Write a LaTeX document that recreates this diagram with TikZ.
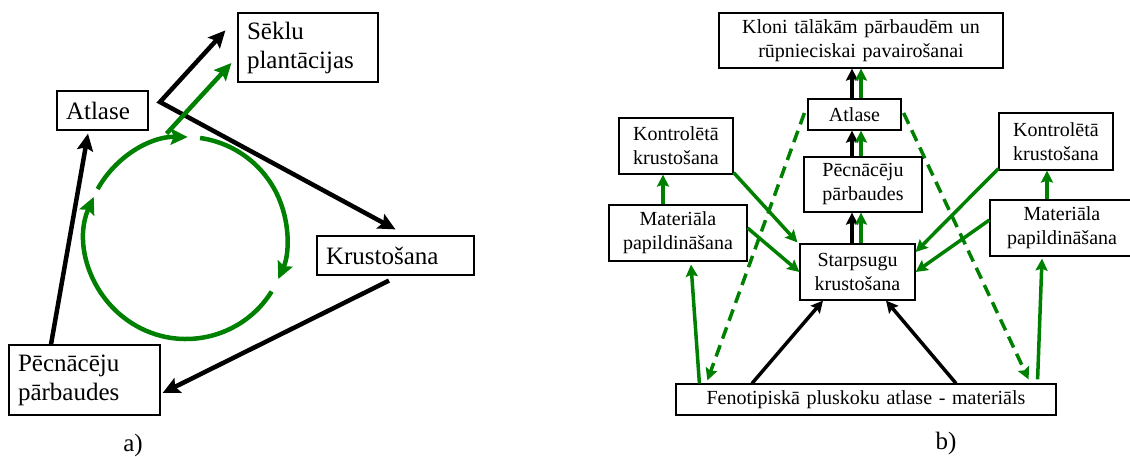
\documentclass[tikz,border=0pt]{standalone}
\usepackage{fontspec}
\setmainfont{Liberation Serif}
\usetikzlibrary{arrows.meta}
\definecolor{leaf}{RGB}{0,128,0}
\tikzset{
    boxA/.style={draw, line width=1.2pt, fill=white, align=left, inner xsep=9pt,
        font=\fontsize{25}{29}\selectfont},
    boxB/.style={draw, line width=1.2pt, fill=white, align=center, inner xsep=4pt,
        font=\fontsize{20}{24}\selectfont},
    blk/.style={line width=3.5pt, -{Stealth[length=12pt,width=12pt,inset=2pt]}},
    grn/.style={blk, draw=leaf},
    blkA/.style={line width=4.5pt, -{Stealth[length=17pt,width=16pt,inset=3pt]}},
    grnA/.style={blkA, draw=leaf},
    dsh/.style={grn, dash pattern=on 12pt off 7pt},
}
\begin{document}
\begin{tikzpicture}[x=1pt, y=1pt]
    \useasboundingbox (0,0) rectangle (1130,-457);

    % a) cycle
    \foreach \x/\y/\w/\h/\txt/\name in {
        308/47.5/140/69/{Sēklu\\plantācijas}/seklu,
        102.5/110.5/91/39/Atlase/atlA,
        395.5/255.5/157/39/Krustošana/krusA,
        84.5/380/151/70/{Pēcnācēju\\pārbaudes}/pecA%
     } {
        \pgfmathsetmacro\tw{\w-18}
        \node[boxA, minimum width=\w, minimum height=\h, text width=\tw pt] (\name) at (\x, -\y) {\txt};
    }
    \coordinate (hub) at (186,-238);
    \coordinate (knee) at (160,-102);
    \draw[grnA] (hub) ++(82:101) arc (82:-24:101);
    \draw[grnA] (hub) ++(-32:101) arc (-32:-204:101);
    \draw[grnA] (hub) ++(151:101) arc (151:89:101);

    \draw[blkA] ([xshift=-33.5pt]pecA.north) -- ([xshift=-14.5pt,yshift=-3pt]atlA.south);
    \draw[line width=4.5pt, {Stealth[length=17pt,width=16pt,inset=3pt]}-{Stealth[length=17pt,width=16pt,inset=3pt]}]
        ([xshift=-12pt,yshift=-18pt]seklu.north west) -- (knee) -- ([yshift=6pt]krusA.north);
    \draw[grnA] ([xshift=18pt,yshift=-3pt]atlA.south east) -- ([xshift=-6pt,yshift=-15.5pt]seklu.west);
    \draw[blkA] ([xshift=-6.5pt,yshift=-5pt]krusA.south) -- ([xshift=2pt,yshift=-13pt]pecA.east);
    \node[font=\fontsize{25}{29}\selectfont] (capA) at (133,-445) {a)};

    % b) scheme
    \foreach \x/\y/\w/\h/\txt/\name in {
        861/40.5/284/55/{Kloni tālākām pārbaudēm un\\rūpnieciskai pavairošanai}/kloni,
        854.5/114.5/93/31/Atlase/atlB,
        863/184.5/118/55/{Pēcnācēju\\pārbaudes}/pecB,
        857.5/272/115/56/{Starpsugu\\krustošana}/starp,
        866/399.5/380/31/{Fenotipiskā pluskoku atlase - materiāls}/feno,
        676/146/114/56/{Kontrolētā\\krustošana}/kontrL,
        678/233/138/56/{Materiāla\\papildināšana}/matL,
        1056/141.5/114/57/{Kontrolētā\\krustošana}/kontrR,
        1062/228/144/56/{Materiāla\\papildināšana}/matR%
     } {
        \pgfmathsetmacro\tw{\w-8}
        \node[boxB, minimum width=\w, minimum height=\h, text width=\tw pt] (\name) at (\x, -\y) {\txt};
    }
    \foreach \dx/\sty in {-2.5/blk, 6.5/grn} {
        \draw[\sty] ([xshift=\dx pt]atlB.north) -- ([xshift=\dx pt]atlB.north |- kloni.south);
        \draw[\sty] ([xshift=\dx pt]atlB.south |- pecB.north) -- ([xshift=\dx pt]atlB.south);
        \draw[\sty] ([xshift=\dx pt]atlB.south |- starp.north) -- ([xshift=\dx pt]atlB.south |- pecB.south);
    }
    \draw[grn] ([xshift=-13pt]kontrL.south |- matL.north) -- ([xshift=-13pt]kontrL.south);
    \draw[grn] ([xshift=-9pt]kontrR.south |- matR.north) -- ([xshift=-9pt]kontrR.south);
    \draw[grn] ([yshift=2pt]kontrL.south east) -- ([xshift=-2pt,yshift=1pt]starp.north west);
    \draw[grn] ([yshift=5pt]matL.east) -- (starp.west);
    \draw[grn] ([yshift=2pt]kontrR.south west) -- ([yshift=20pt]starp.east);
    \draw[grn] ([yshift=8pt]matR.west) -- (starp.east);
    \draw[grn] ([xshift=24pt]feno.north west) -- ([xshift=13pt,yshift=-3pt]matL.south);
    \draw[grn] ([xshift=-19pt,yshift=4pt]feno.north east) -- ([xshift=-20pt,yshift=-2pt]matR.south);
    \draw[blk] ([xshift=-114pt]feno.north) -- ([xshift=-34.5pt]starp.south);
    \draw[blk] ([xshift=90pt]feno.north) -- ([xshift=28.5pt]starp.south);
    \draw[dsh] ([xshift=-3pt,yshift=1.5pt]atlB.west) -- ([xshift=32pt,yshift=3pt]feno.north west);
    \draw[dsh] ([xshift=2pt,yshift=1.5pt]atlB.east) -- ([xshift=-28pt,yshift=4pt]feno.north east);
    \node[font=\fontsize{25}{29}\selectfont] (capB) at (946,-443) {b)};
\end{tikzpicture}
\end{document}
